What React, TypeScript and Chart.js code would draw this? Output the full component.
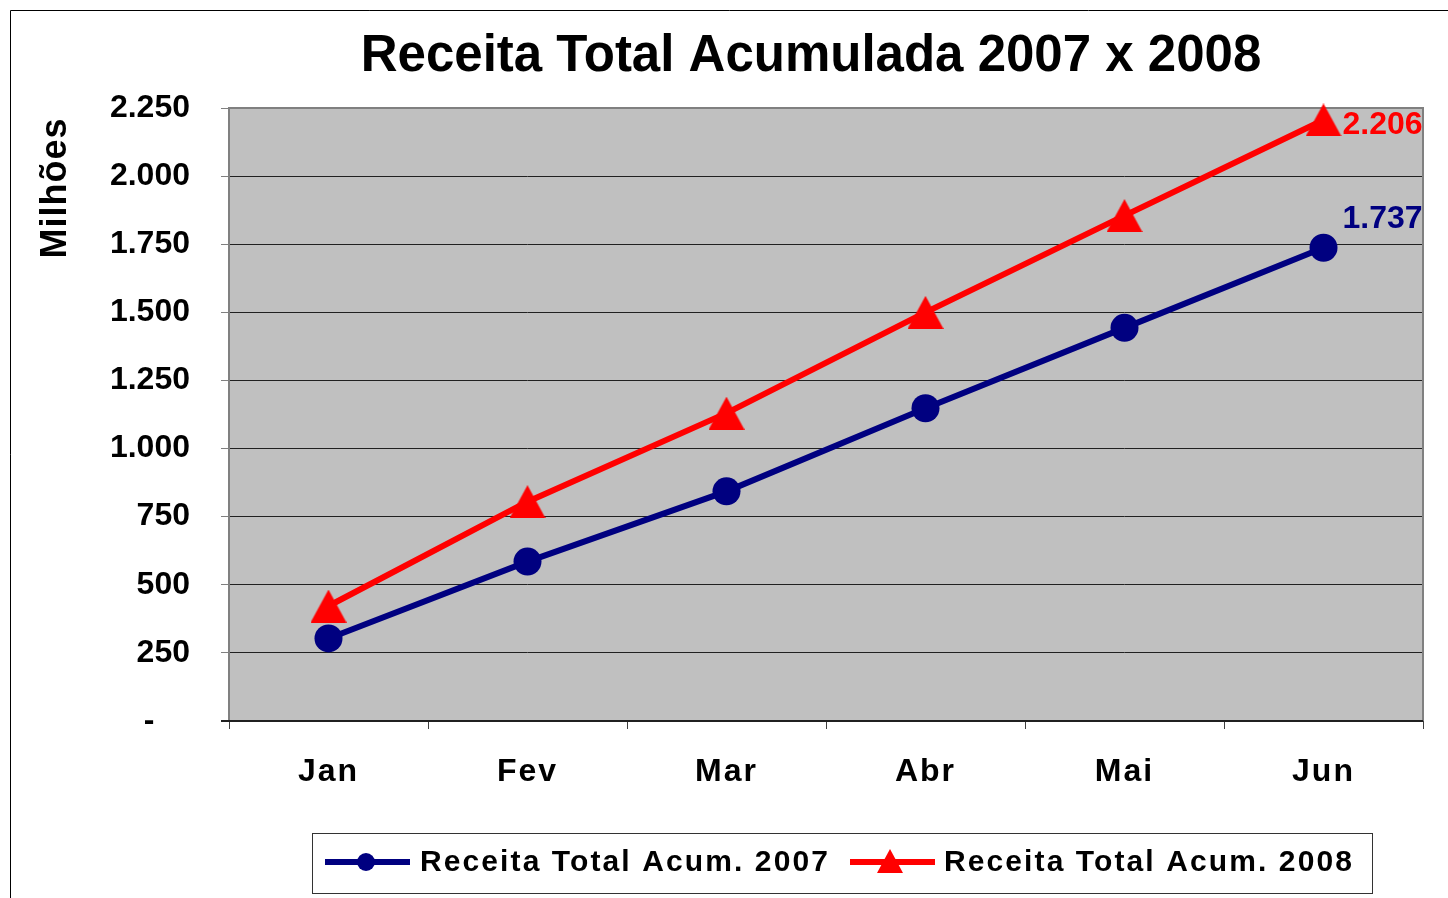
import React, { useEffect, useRef } from 'react';
import { Chart, registerables } from 'chart.js';

Chart.register(...registerables);

const categories = ['Jan', 'Fev', 'Mar', 'Abr', 'Mai', 'Jun'];
const receita2007 = [303, 585, 843, 1148, 1443, 1737];
const receita2008 = [422, 805, 1130, 1500, 1855, 2206];
const yTickLabels = ['-    ', '250', '500', '750', '1.000', '1.250', '1.500', '1.750', '2.000', '2.250'];
const seriesLabels = ['Receita Total Acum. 2007', 'Receita Total Acum. 2008'];
const lastValueLabels = ['1.737', '2.206'];
const seriesColors = ['#000080', '#FF0000'];
const titleText = 'Receita Total Acumulada 2007 x 2008';
const yAxisTitle = 'Milhões';

const FONT = 'Arial, "Liberation Sans", sans-serif';

function makeTriangle(w: number, h: number, color: string) {
  const c = document.createElement('canvas');
  c.width = w;
  c.height = h;
  const g = c.getContext('2d')!;
  g.fillStyle = color;
  g.beginPath();
  g.moveTo(w / 2, 0);
  g.lineTo(w, h);
  g.lineTo(0, h);
  g.closePath();
  g.fill();
  return c;
}

const decorPlugin = {
  id: 'decor',
  afterLayout(chart: any) {
    const xs = chart.scales.x;
    if (xs && !xs.__patched) {
      const orig = xs.drawLabels;
      xs.drawLabels = function (area: any) {
        const ctx = this.ctx;
        ctx.save();
        (ctx as any).letterSpacing = '2px';
        orig.call(this, area);
        ctx.restore();
      };
      xs.__patched = true;
    }
  },
  beforeDraw(chart: any) {
    const { ctx, chartArea: a } = chart;
    ctx.save();
    ctx.fillStyle = '#FFFFFF';
    ctx.fillRect(0, 0, chart.width, chart.height);
    ctx.fillStyle = '#C0C0C0';
    ctx.fillRect(a.left, a.top, a.right - a.left, a.bottom - a.top);
    ctx.restore();
  },
  beforeDatasetsDraw(chart: any) {
    const { ctx, chartArea: a } = chart;
    ctx.save();
    ctx.strokeStyle = '#808080';
    ctx.lineWidth = 2;
    ctx.beginPath();
    ctx.moveTo(a.left, a.bottom);
    ctx.lineTo(a.left, a.top);
    ctx.lineTo(a.right, a.top);
    ctx.lineTo(a.right, a.bottom);
    ctx.stroke();
    ctx.strokeStyle = '#202020';
    ctx.beginPath();
    ctx.moveTo(a.left - 8, a.bottom);
    ctx.lineTo(a.right, a.bottom);
    ctx.stroke();
    ctx.restore();
  },
  afterDraw(chart: any) {
    const { ctx } = chart;
    ctx.save();
    // Title
    ctx.fillStyle = '#000';
    ctx.font = `bold 51px ${FONT}`;
    ctx.textAlign = 'center';
    ctx.textBaseline = 'middle';
    ctx.fillText(titleText, 811, 57);

    // Y axis title
    ctx.save();
    ctx.translate(56, 188);
    ctx.rotate(-Math.PI / 2);
    ctx.font = `bold 36px ${FONT}`;
    (ctx as any).letterSpacing = '1px';
    ctx.textAlign = 'center';
    ctx.textBaseline = 'middle';
    ctx.fillText(yAxisTitle, 0, 0);
    ctx.restore();

    // Last value labels
    ctx.font = `bold 32px ${FONT}`;
    ctx.textAlign = 'left';
    ctx.textBaseline = 'middle';
    const p0 = chart.getDatasetMeta(0).data[categories.length - 1];
    const p1 = chart.getDatasetMeta(1).data[categories.length - 1];
    ctx.fillStyle = seriesColors[0];
    ctx.fillText(lastValueLabels[0], p0.x + 19, p0.y - 29);
    ctx.fillStyle = seriesColors[1];
    ctx.fillText(lastValueLabels[1], p1.x + 19, p1.y + 5);

    // Legend
    ctx.strokeStyle = '#333';
    ctx.lineWidth = 1;
    ctx.strokeRect(312.5, 833.5, 1060, 60);
    const ly = 862;
    const items = [
      { x0: 325, x1: 410, mx: 366, text: 420 },
      { x0: 850, x1: 935, mx: 890, text: 944 },
    ];
    items.forEach((it, i) => {
      ctx.strokeStyle = seriesColors[i];
      ctx.fillStyle = seriesColors[i];
      ctx.lineWidth = 6;
      ctx.beginPath();
      ctx.moveTo(it.x0, ly);
      ctx.lineTo(it.x1, ly);
      ctx.stroke();
      ctx.beginPath();
      if (i === 0) {
        ctx.arc(it.mx, ly, 9, 0, Math.PI * 2);
      } else {
        ctx.moveTo(it.mx, ly - 13);
        ctx.lineTo(it.mx + 13, ly + 11);
        ctx.lineTo(it.mx - 13, ly + 11);
        ctx.closePath();
      }
      ctx.fill();
      ctx.fillStyle = '#000';
      ctx.font = `bold 30px ${FONT}`;
      (ctx as any).letterSpacing = '2.1px';
      ctx.textAlign = 'left';
      ctx.textBaseline = 'middle';
      ctx.fillText(seriesLabels[i], it.text, ly + 1);
      (ctx as any).letterSpacing = '0px';
    });

    // Outer frame
    ctx.strokeStyle = '#000';
    ctx.lineWidth = 1;
    ctx.beginPath();
    ctx.moveTo(10.5, chart.height);
    ctx.lineTo(10.5, 10.5);
    ctx.lineTo(chart.width, 10.5);
    ctx.stroke();
    ctx.restore();
  },
};

export default function App() {
  const ref = useRef<HTMLCanvasElement>(null);
  useEffect(() => {
    document.body.style.margin = '0';
    document.body.style.overflow = 'hidden';
    const canvas = ref.current!;
    const triangle = makeTriangle(36, 33, seriesColors[1]);
    const chart = new Chart(canvas, {
      type: 'line',
      data: {
        labels: categories,
        datasets: [
          {
            label: seriesLabels[0],
            data: receita2007,
            borderColor: seriesColors[0],
            backgroundColor: seriesColors[0],
            borderWidth: 6,
            pointStyle: 'circle',
            pointRadius: 14,
            pointBorderWidth: 0,
            tension: 0,
            clip: false as any,
          },
          {
            label: seriesLabels[1],
            data: receita2008,
            borderColor: seriesColors[1],
            backgroundColor: seriesColors[1],
            borderWidth: 6,
            pointStyle: triangle as any,
            pointRadius: 18,
            pointBorderWidth: 0,
            tension: 0,
            clip: false as any,
          },
        ],
      },
      options: {
        responsive: false,
        animation: false,
        devicePixelRatio: 1,
        layout: { padding: { top: 108, left: 0, right: 25, bottom: 77 } },
        plugins: {
          legend: { display: false },
          title: { display: false },
          tooltip: { enabled: false },
        },
        scales: {
          x: {
            type: 'category',
            offset: true,
            grid: {
              display: true,
              drawOnChartArea: false,
              drawTicks: true,
              tickLength: 8,
              tickColor: '#404040',
              offset: true,
            },
            border: { display: false },
            ticks: {
              font: { family: FONT, size: 32, weight: 'bold' },
              color: '#000',
              padding: 24,
              maxRotation: 0,
              autoSkip: false,
            },
            afterFit: (s: any) => {
              s.height = 100;
            },
          },
          y: {
            min: 0,
            max: 2250,
            ticks: {
              stepSize: 250,
              callback: (_v: any, i: number) => yTickLabels[i],
              font: { family: FONT, size: 32, weight: 'bold' },
              color: '#000',
              padding: 31,
            },
            grid: {
              color: '#202020',
              lineWidth: 1,
              tickLength: 8,
              tickColor: '#808080',
              drawTicks: true,
            },
            border: { display: false },
            afterFit: (s: any) => {
              s.width = 229;
            },
          },
        },
      } as any,
      plugins: [decorPlugin],
    });
    return () => chart.destroy();
  }, []);
  return (
    <div style={{ width: 1448, height: 898 }}>
      <canvas ref={ref} width={1448} height={898} style={{ display: 'block' }} />
    </div>
  );
}
